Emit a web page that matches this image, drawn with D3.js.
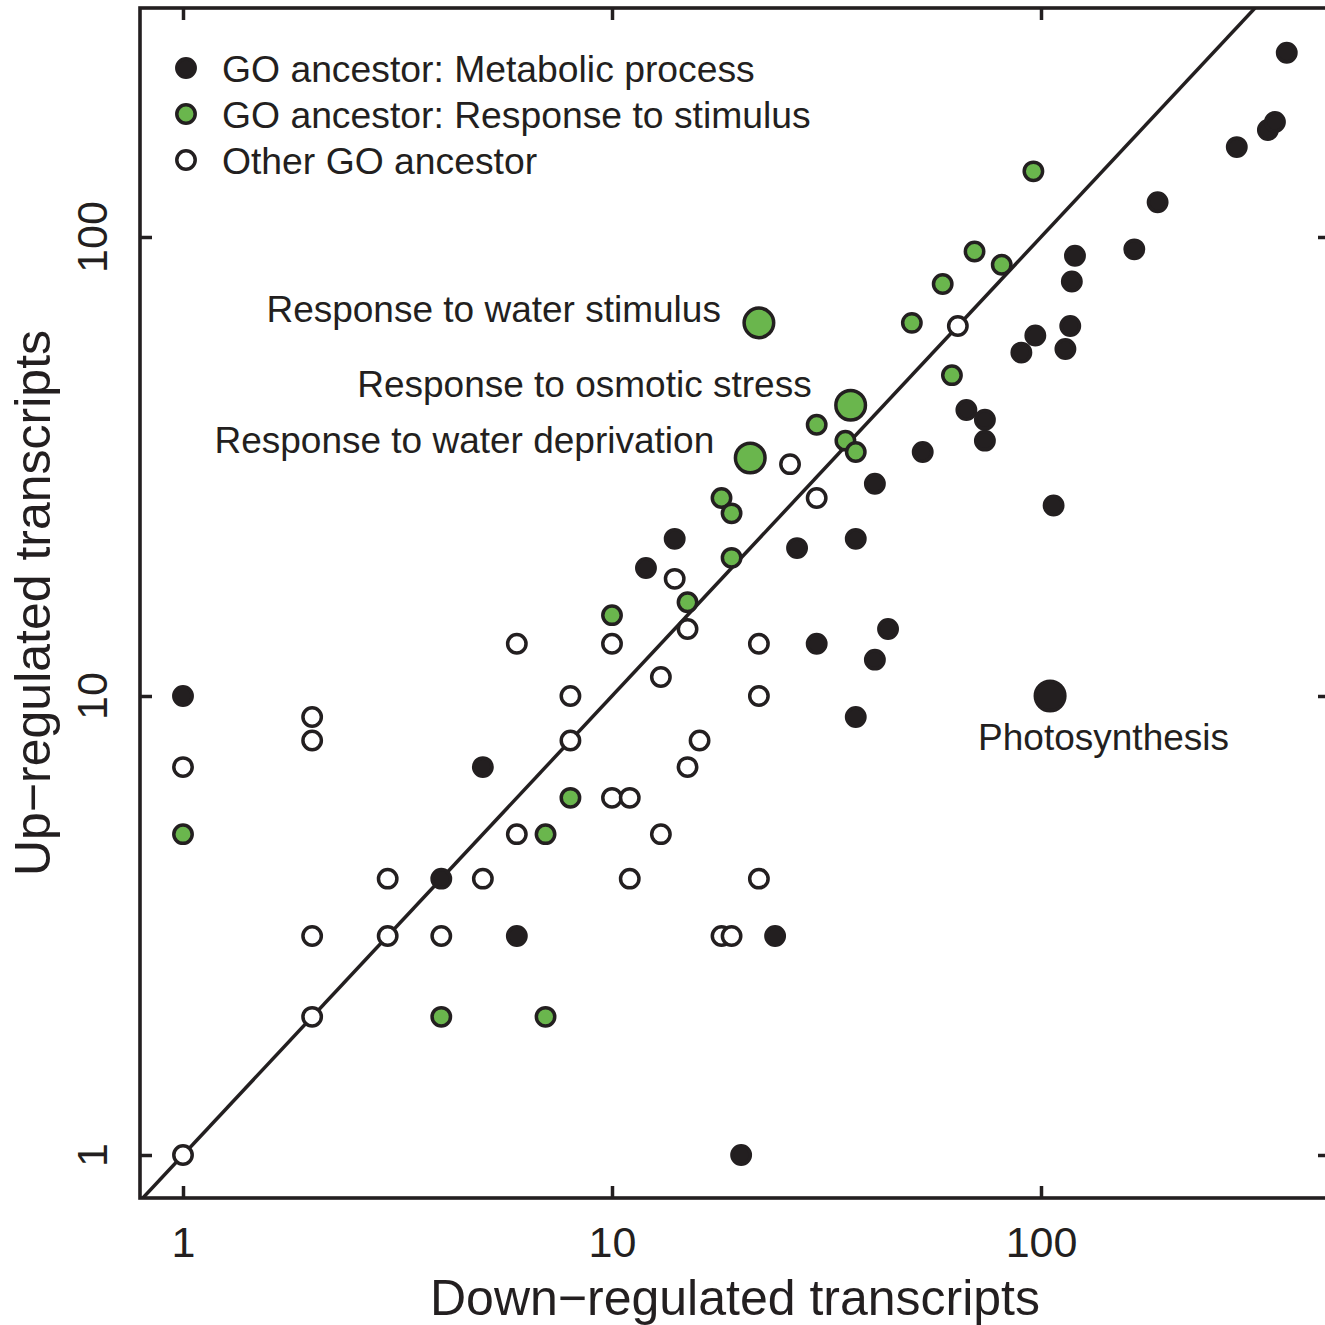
<!DOCTYPE html>
<html>
<head>
<meta charset="utf-8">
<script src="https://cdn.jsdelivr.net/npm/d3@7"></script>
<style>
  body { margin: 0; background: #fff; }
  svg text { font-family: "Liberation Sans", Arial, Helvetica, sans-serif; fill: #231f20; }
</style>
</head>
<body>
<svg id="chart" width="1325" height="1325"></svg>
<script>
// GO ancestor: Metabolic process
const metabolicDown = [1, 5, 4, 6, 12, 14, 20, 24, 27, 30, 37, 37, 41, 41, 44, 53, 67, 74, 74, 90, 97, 107, 114, 117, 118, 120, 165, 187, 286, 338, 351, 374]
const metabolicUp   = [10, 7, 4, 3, 19, 22, 1, 3, 21, 13, 22, 9, 29, 12, 14, 34, 42, 40, 36, 56, 61, 26, 57, 64, 80, 91, 94, 119, 157, 171, 178, 252]

// GO ancestor: Response to stimulus
const stimulusDown = [1, 4, 7, 7, 8, 10, 15, 18, 19, 19, 30, 35, 37, 50, 59, 62, 70, 81, 96]
const stimulusUp   = [5, 2, 2, 5, 6, 15, 16, 27, 25, 20, 39, 36, 34, 65, 79, 50, 93, 87, 139]

// Other GO ancestor
const otherDown = [1, 1, 2, 2, 2, 2, 3, 3, 4, 5, 6, 6, 8, 8, 10, 10, 11, 11, 13, 13, 14, 15, 15, 16, 18, 19, 22, 22, 22, 26, 30, 64]
const otherUp   = [1, 7, 9, 8, 3, 2, 4, 3, 3, 4, 13, 5, 10, 8, 13, 6, 6, 4, 11, 5, 18, 14, 7, 8, 3, 3, 13, 10, 4, 32, 27, 64]

// highlighted terms
const namedTerms = ["Response to water stimulus", "Response to osmotic stress", "Response to water deprivation", "Photosynthesis"]
const namedGroup = ["stimulus", "stimulus", "stimulus", "metabolic"]
const namedDown  = [22, 36, 21, 105]
const namedUp    = [65, 43, 33, 10]

const tickValues = [1, 10, 100]
const legendLabels = ["GO ancestor: Metabolic process", "GO ancestor: Response to stimulus", "Other GO ancestor"]
const legendGroups = ["metabolic", "stimulus", "other"]

// label placement relative to its point (layout, not data)
const labelOffsets = [
  {dx: -38, dy: -1, anchor: "end"},
  {dx: -39, dy: -8, anchor: "end"},
  {dx: -36, dy: -5, anchor: "end"},
  {dx: -72, dy: 54, anchor: "start"}
]

const ink = "#231f20"
const green = "#6ab64d"
const fillFor = {metabolic: ink, stimulus: green, other: "#fff"}

const box = {left: 140, top: 8, right: 1330, bottom: 1198}
const smallR = 9.2, bigR = 14.8

const x = d3.scaleLog().domain([1, 100]).range([183, 1041])
const y = d3.scaleLog().domain([1, 100]).range([1155, 237])

const svg = d3.select("#chart")

svg.append("defs").append("clipPath").attr("id", "plot-clip")
  .append("rect")
  .attr("x", box.left).attr("y", box.top)
  .attr("width", box.right - box.left).attr("height", box.bottom - box.top)

// y = x reference line
const diag = [0.5, 1000]
svg.append("line")
  .attr("clip-path", "url(#plot-clip)")
  .attr("x1", x(diag[0])).attr("y1", y(diag[0]))
  .attr("x2", x(diag[1])).attr("y2", y(diag[1]))
  .attr("stroke", ink)
  .attr("stroke-width", 3.5)

// points
const points = []
otherDown.forEach((d, i) => points.push({down: d, up: otherUp[i], group: "other", r: smallR}))
stimulusDown.forEach((d, i) => points.push({down: d, up: stimulusUp[i], group: "stimulus", r: smallR}))
metabolicDown.forEach((d, i) => points.push({down: d, up: metabolicUp[i], group: "metabolic", r: smallR}))
namedDown.forEach((d, i) => points.push({down: d, up: namedUp[i], group: namedGroup[i], r: bigR, label: namedTerms[i], off: labelOffsets[i]}))

svg.append("g")
  .selectAll("circle")
  .data(points)
  .join("circle")
  .attr("cx", d => x(d.down))
  .attr("cy", d => y(d.up))
  .attr("r", d => d.r)
  .attr("fill", d => fillFor[d.group])
  .attr("stroke", ink)
  .attr("stroke-width", 3.5)

svg.append("g")
  .selectAll("text")
  .data(points.filter(d => d.label))
  .join("text")
  .attr("x", d => x(d.down) + d.off.dx)
  .attr("y", d => y(d.up) + d.off.dy)
  .attr("text-anchor", d => d.off.anchor)
  .attr("font-size", 37)
  .text(d => d.label)

// frame
svg.append("rect")
  .attr("x", box.left).attr("y", box.top)
  .attr("width", box.right - box.left).attr("height", box.bottom - box.top)
  .attr("fill", "none")
  .attr("stroke", ink)
  .attr("stroke-width", 3.6)

// axes (ticks point inward)
const styleAxis = g => {
  g.select(".domain").remove()
  g.selectAll(".tick line").attr("stroke", ink).attr("stroke-width", 3.5)
  g.selectAll(".tick text").attr("fill", ink).attr("font-size", 43)
    .attr("font-family", '"Liberation Sans", Arial, Helvetica, sans-serif')
}

svg.append("g")
  .attr("transform", `translate(0,${box.bottom})`)
  .call(d3.axisBottom(x).tickValues(tickValues).tickSize(-12).tickPadding(28).tickFormat(d3.format("d")))
  .call(styleAxis)

svg.append("g")
  .attr("transform", `translate(0,${box.top})`)
  .call(d3.axisTop(x).tickValues(tickValues).tickSize(-12).tickFormat(""))
  .call(styleAxis)

svg.append("g")
  .attr("transform", `translate(${box.left},0)`)
  .call(d3.axisLeft(y).tickValues(tickValues).tickSize(-12).tickFormat(""))
  .call(styleAxis)

svg.append("g")
  .attr("transform", `translate(${box.right},0)`)
  .call(d3.axisRight(y).tickValues(tickValues).tickSize(-12).tickFormat(""))
  .call(styleAxis)

// rotated y tick labels
svg.append("g")
  .selectAll("text")
  .data(tickValues)
  .join("text")
  .attr("transform", d => `translate(107,${y(d)}) rotate(-90)`)
  .attr("text-anchor", "middle")
  .attr("font-size", 43)
  .text(d3.format("d"))

// axis titles
svg.append("text")
  .attr("x", (box.left + box.right) / 2)
  .attr("y", 1315)
  .attr("text-anchor", "middle")
  .attr("font-size", 50)
  .text("Down\u2212regulated transcripts")

svg.append("text")
  .attr("transform", `translate(50,${(box.top + box.bottom) / 2}) rotate(-90)`)
  .attr("text-anchor", "middle")
  .attr("font-size", 50)
  .text("Up\u2212regulated transcripts")

// legend
const legend = svg.append("g")
  .selectAll("g")
  .data(legendLabels)
  .join("g")
  .attr("transform", (d, i) => `translate(186,${68 + i * 46})`)

legend.append("circle")
  .attr("r", smallR)
  .attr("fill", (d, i) => fillFor[legendGroups[i]])
  .attr("stroke", ink)
  .attr("stroke-width", 3.5)

legend.append("text")
  .attr("x", 36)
  .attr("y", 14)
  .attr("font-size", 37.3)
  .text(d => d)
</script>
</body>
</html>
